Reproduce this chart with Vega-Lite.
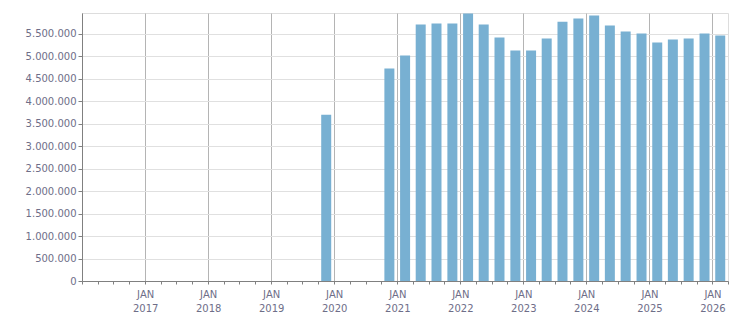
{
  "$schema": "https://vega.github.io/schema/vega-lite/v6.json",
  "width": 646,
  "height": 268,
  "autosize": "none",
  "padding": {"left": 82, "top": 13, "right": 23, "bottom": 32},
  "background": "white",
  "config": {
    "view": {"stroke": "#dddddd"},
    "font": "DejaVu Sans"
  },
  "data": {
    "values": [
      {"quarter": "2019-10-01", "value": 3700000},
      {"quarter": "2020-10-01", "value": 4729000},
      {"quarter": "2021-01-01", "value": 5018000},
      {"quarter": "2021-04-01", "value": 5707000},
      {"quarter": "2021-07-01", "value": 5729000},
      {"quarter": "2021-10-01", "value": 5729000},
      {"quarter": "2022-01-01", "value": 5955000},
      {"quarter": "2022-04-01", "value": 5707000},
      {"quarter": "2022-07-01", "value": 5418000},
      {"quarter": "2022-10-01", "value": 5129000},
      {"quarter": "2023-01-01", "value": 5129000},
      {"quarter": "2023-04-01", "value": 5396000},
      {"quarter": "2023-07-01", "value": 5773000},
      {"quarter": "2023-10-01", "value": 5840000},
      {"quarter": "2024-01-01", "value": 5907000},
      {"quarter": "2024-04-01", "value": 5684000},
      {"quarter": "2024-07-01", "value": 5551000},
      {"quarter": "2024-10-01", "value": 5507000},
      {"quarter": "2025-01-01", "value": 5307000},
      {"quarter": "2025-04-01", "value": 5373000},
      {"quarter": "2025-07-01", "value": 5396000},
      {"quarter": "2025-10-01", "value": 5507000},
      {"quarter": "2026-01-01", "value": 5462000}
    ]
  },
  "mark": {"type": "bar", "color": "#78b0d2", "size": 10},
  "encoding": {
    "x": {
      "field": "quarter",
      "type": "temporal",
      "timeUnit": "utcyearquarter",
      "bandPosition": 0.5,
      "title": null,
      "scale": {
        "type": "utc",
        "domain": [
          {"year": 2016, "month": 1, "date": 1, "utc": true},
          {"year": 2026, "month": 4, "date": 1, "utc": true}
        ]
      },
      "axis": {
        "tickCount": {"interval": "month", "step": 3},
        "labelExpr": "utcmonth(datum.value) == 0 && utcyear(datum.value) > 2016 ? ['JAN', utcFormat(datum.value, '%Y')] : ''",
        "labelOverlap": false,
        "labelFlush": false,
        "labelBound": false,
        "labelFontSize": 10,
        "labelColor": "#6e6e88",
        "labelLineHeight": 14,
        "labelPadding": 5,
        "tickSize": 3,
        "tickColor": "#808080",
        "domainColor": "#808080",
        "grid": true,
        "gridColor": "#b4b4b4",
        "gridOpacity": {"condition": {"test": "utcmonth(datum.value) == 0", "value": 1}, "value": 0}
      }
    },
    "y": {
      "field": "value",
      "type": "quantitative",
      "title": null,
      "scale": {"domain": [0, 5965000], "nice": false},
      "axis": {
        "values": [0, 500000, 1000000, 1500000, 2000000, 2500000, 3000000, 3500000, 4000000, 4500000, 5000000, 5500000],
        "labelExpr": "replace(format(datum.value, ','), regexp(',', 'g'), '.')",
        "labelFontSize": 10,
        "labelColor": "#6e6e88",
        "labelPadding": 2,
        "tickSize": 4,
        "tickColor": "#808080",
        "domainColor": "#808080",
        "gridColor": "#e0e0e0"
      }
    }
  }
}
